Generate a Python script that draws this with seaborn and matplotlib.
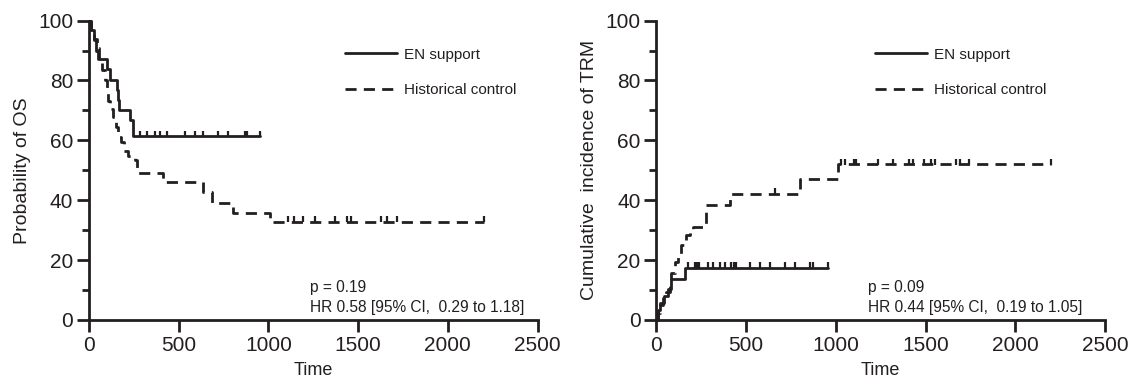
import numpy as np
import pandas as pd
import matplotlib
matplotlib.use("Agg")
import matplotlib.pyplot as plt
from matplotlib.ticker import MultipleLocator
from matplotlib.lines import Line2D
import seaborn as sns

# overall survival, step points (day, %), last entry = end of follow-up
os_en_time = [0, 10, 25, 40, 50, 98, 115, 154, 162, 169, 228, 243, 952]
os_en_val = [100, 96.7, 93.4, 90, 87.2, 83.9, 80.3, 76.9, 73.5, 70, 66.7, 61.3, 61.3]
os_en_cens = [284, 321, 368, 396, 433, 535, 591, 637, 720, 775, 869, 878, 952]

os_hc_time = [0, 12, 25, 43, 55, 72, 90, 98, 106, 118, 134, 150, 163, 178, 196, 215,
              256, 266, 413, 636, 683, 803, 1008, 2200]
os_hc_val = [100, 97, 94, 91, 87.5, 83.5, 80, 77.5, 73.3, 70.5, 67.8, 64.4, 61, 59.5,
             56.3, 54.7, 53.3, 49, 46, 42.8, 39, 35.9, 32.8, 32.8]
os_hc_cens = [1110, 1140, 1195, 1260, 1370, 1440, 1460, 1630, 1660, 1715, 2200]

# cumulative incidence of TRM
trm_en_time = [0, 8, 20, 40, 65, 80, 157, 956]
trm_en_val = [0, 3.3, 5.6, 8.0, 10.3, 13.6, 17.4, 17.4]
trm_en_cens = [176, 215, 228, 240, 287, 315, 352, 380, 418, 432, 446, 520, 576,
               632, 716, 771, 858, 870, 956]

trm_hc_time = [0, 8, 18, 37, 56, 74, 84, 102, 121, 139, 167, 186, 204, 260, 279,
               409, 799, 1013, 2200]
trm_hc_val = [0, 2.5, 5, 7.2, 9.4, 12.2, 15.6, 19.4, 22.2, 25, 28.3, 29.4, 31.1,
              32.2, 38.3, 42.2, 47.2, 52, 52]
trm_hc_cens = [660, 1030, 1050, 1100, 1115, 1235, 1320, 1405, 1430, 1490, 1530,
               1555, 1670, 1690, 1740, 2200]

groups = ["EN support", "Historical control"]
x_ticks = [0, 500, 1000, 1500, 2000, 2500]
y_ticks = [0, 20, 40, 60, 80, 100]

INK = "#231f20"
DASH = (0, (4, 2.6))

sns.set_theme(style="ticks")
plt.rcParams["font.family"] = ["Liberation Sans", "DejaVu Sans"]
plt.rcParams["text.color"] = INK
plt.rcParams["axes.labelcolor"] = INK


def step_at(times, vals, t):
    idx = np.searchsorted(times, t, side="right") - 1
    return np.asarray(vals)[idx]


def draw_panel(ax, curves, ylabel, p_text, hr_text, leg_x, txt_x):
    for name, (t, v, c) in zip(groups, curves):
        df = pd.DataFrame({"Time": t, "val": v})
        ls = "-" if name == groups[0] else DASH
        sns.lineplot(data=df, x="Time", y="val", ax=ax, color=INK, lw=2,
                     drawstyle="steps-post", estimator=None, sort=False,
                     linestyle=ls, clip_on=False)
        # censoring ticks sit just above the curve
        cens = pd.DataFrame({"Time": c, "val": step_at(t, v, c) + 0.9})
        sns.scatterplot(data=cens, x="Time", y="val", ax=ax, marker="|", s=22,
                        color=INK, linewidth=1.6, clip_on=False, legend=False)

    ax.set_xlim(0, 2500)
    ax.set_ylim(0, 100)
    ax.set_xticks(x_ticks)
    ax.set_yticks(y_ticks)
    ax.yaxis.set_minor_locator(MultipleLocator(10))
    sns.despine(ax=ax)
    for s in ["left", "bottom"]:
        ax.spines[s].set_linewidth(2)
        ax.spines[s].set_color(INK)
    ax.tick_params(which="major", length=8.5, width=2, labelsize=15,
                   color=INK, labelcolor=INK, pad=3)
    ax.tick_params(which="minor", length=5, width=2, color=INK)
    ax.set_xlabel("Time", fontsize=13, labelpad=5)
    ax.set_ylabel(ylabel, fontsize=14, labelpad=5)

    handles = [Line2D([], [], color=INK, lw=2),
               Line2D([], [], color=INK, lw=2, linestyle=DASH)]
    ax.legend(handles, groups, loc="upper left", bbox_to_anchor=(leg_x, 0.91),
              frameon=False, fontsize=11, handlelength=3.4, handletextpad=0.45,
              labelspacing=1.4, borderpad=0, borderaxespad=0)

    ax.text(txt_x, 0.11, p_text, transform=ax.transAxes, fontsize=11.2,
            va="center", ha="left")
    ax.text(txt_x, 0.043, hr_text, transform=ax.transAxes, fontsize=11.2,
            va="center", ha="left")


fig, axes = plt.subplots(1, 2, figsize=(11.34, 3.89), dpi=100)
fig.subplots_adjust(left=0.0785, right=0.9744, bottom=0.1774, top=0.947, wspace=0.265)

draw_panel(axes[0],
           [(os_en_time, os_en_val, os_en_cens), (os_hc_time, os_hc_val, os_hc_cens)],
           "Probability of OS", "p = 0.19", "HR 0.58 [95% CI,  0.29 to 1.18]",
           0.57, 0.492)
draw_panel(axes[1],
           [(trm_en_time, trm_en_val, trm_en_cens), (trm_hc_time, trm_hc_val, trm_hc_cens)],
           "Cumulative  incidence of TRM", "p = 0.09", "HR 0.44 [95% CI,  0.19 to 1.05]",
           0.487, 0.471)

fig.savefig("out.png", dpi=100)
